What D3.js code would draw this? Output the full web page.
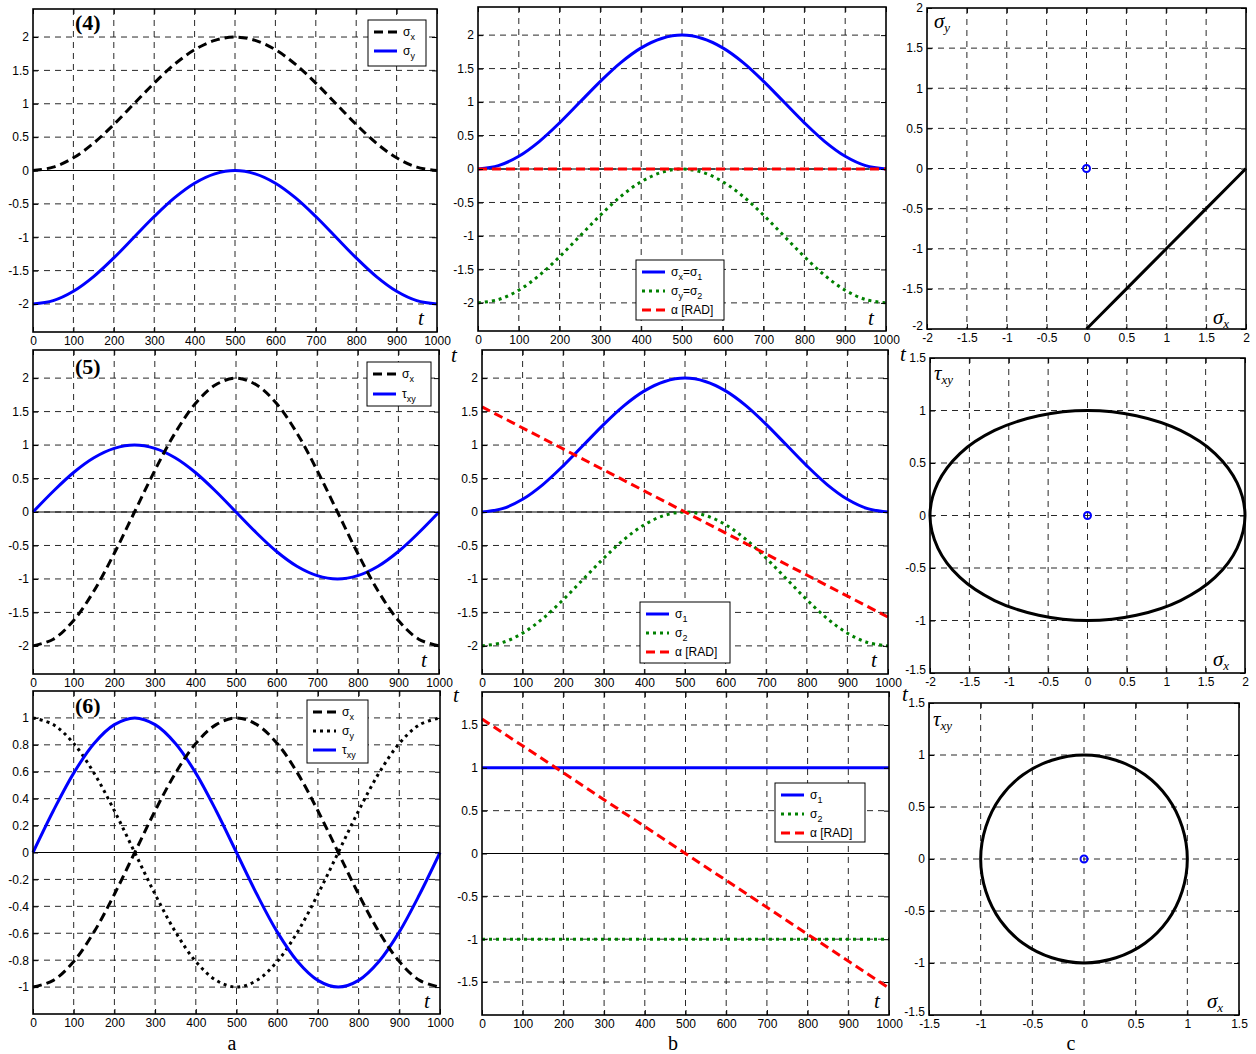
<!DOCTYPE html>
<html>
<head>
<meta charset="utf-8">
<script src="https://cdn.jsdelivr.net/npm/d3@7"></script>
<style>
body { margin: 0; background: #fff; }
svg { display: block; }
text { font-family: "Liberation Sans", Arial, sans-serif; }
.serif { font-family: "Liberation Serif", "Times New Roman", serif; }
</style>
</head>
<body>
<svg id="fig" width="1256" height="1054"></svg>
<script>
// time samples, read every 50 steps
var t = [0,50,100,150,200,250,300,350,400,450,500,550,600,650,700,750,800,850,900,950,1000];
var tEnds = [0, 1000];

// case (4)
var sigmaX4 = [0,0.05,0.19,0.41,0.69,1,1.31,1.59,1.81,1.95,2,1.95,1.81,1.59,1.31,1,0.69,0.41,0.19,0.05,0];
var sigmaY4 = [-2,-1.95,-1.81,-1.59,-1.31,-1,-0.69,-0.41,-0.19,-0.05,0,-0.05,-0.19,-0.41,-0.69,-1,-1.31,-1.59,-1.81,-1.95,-2];
var alpha4 = [0, 0];

// case (5)
var sigmaX5 = [-2,-1.9,-1.62,-1.18,-0.62,0,0.62,1.18,1.62,1.9,2,1.9,1.62,1.18,0.62,0,-0.62,-1.18,-1.62,-1.9,-2];
var tauXY5 = [0,0.31,0.59,0.81,0.95,1,0.95,0.81,0.59,0.31,0,-0.31,-0.59,-0.81,-0.95,-1,-0.95,-0.81,-0.59,-0.31,0];
var sigma1_5 = [0,0.05,0.19,0.41,0.69,1,1.31,1.59,1.81,1.95,2,1.95,1.81,1.59,1.31,1,0.69,0.41,0.19,0.05,0];
var sigma2_5 = [-2,-1.95,-1.81,-1.59,-1.31,-1,-0.69,-0.41,-0.19,-0.05,0,-0.05,-0.19,-0.41,-0.69,-1,-1.31,-1.59,-1.81,-1.95,-2];
var alpha5 = [1.57, -1.57];

// case (6)
var sigmaX6 = [-1,-0.95,-0.81,-0.59,-0.31,0,0.31,0.59,0.81,0.95,1,0.95,0.81,0.59,0.31,0,-0.31,-0.59,-0.81,-0.95,-1];
var sigmaY6 = [1,0.95,0.81,0.59,0.31,0,-0.31,-0.59,-0.81,-0.95,-1,-0.95,-0.81,-0.59,-0.31,0,0.31,0.59,0.81,0.95,1];
var tauXY6 = [0,0.31,0.59,0.81,0.95,1,0.95,0.81,0.59,0.31,0,-0.31,-0.59,-0.81,-0.95,-1,-0.95,-0.81,-0.59,-0.31,0];
var sigma1_6 = [1, 1];
var sigma2_6 = [-1, -1];
var alpha6 = [1.57, -1.57];

// origin marker in the stress plane
var originX = [0], originY = [0];

// tick values
var tTicks = [0,100,200,300,400,500,600,700,800,900,1000];
var ticks2 = [-2,-1.5,-1,-0.5,0,0.5,1,1.5,2];
var ticks15 = [-1.5,-1,-0.5,0,0.5,1,1.5];
var ticks1 = [-1,-0.8,-0.6,-0.4,-0.2,0,0.2,0.4,0.6,0.8,1];

var BLUE = "#0000ff", GREEN = "#008000", RED = "#ff0000", BLACK = "#000";
var DASH = "9,5", DOT = "3,4";

var svg = d3.select("#fig");
svg.append("rect").attr("width", 1256).attr("height", 1054).attr("fill", "#fff");

function fmt(v) {
  var s = String(+v.toFixed(2));
  return s === "-0" ? "0" : s;
}

function panel(p) {
  var g = svg.append("g");
  var x = d3.scaleLinear().domain(p.xd).range([p.l, p.r]);
  var y = d3.scaleLinear().domain(p.yd).range([p.b, p.t]);

  g.append("rect").attr("x", p.l).attr("y", p.t)
    .attr("width", p.r - p.l).attr("height", p.b - p.t).attr("fill", "#fff");

  // dashed grid
  g.selectAll(".gx").data(p.xt.filter(function(v){ return v > p.xd[0] && v < p.xd[1]; }))
    .enter().append("line")
    .attr("x1", function(d){ return x(d); }).attr("x2", function(d){ return x(d); })
    .attr("y1", p.t).attr("y2", p.b)
    .attr("stroke", "#111").attr("stroke-width", 0.9).attr("stroke-dasharray", "6,5");
  g.selectAll(".gy").data(p.yt.filter(function(v){ return v > p.yd[0] && v < p.yd[1]; }))
    .enter().append("line")
    .attr("y1", function(d){ return y(d); }).attr("y2", function(d){ return y(d); })
    .attr("x1", p.l).attr("x2", p.r)
    .attr("stroke", "#111").attr("stroke-width", 0.9).attr("stroke-dasharray", "6,5");

  if (p.zero) {
    g.append("line").attr("x1", p.l).attr("x2", p.r)
      .attr("y1", y(0)).attr("y2", y(0)).attr("stroke", "#000").attr("stroke-width", 1);
  }

  p.series.forEach(function(s) {
    var line = d3.line()
      .x(function(i){ return x(s.xs[i]); })
      .y(function(i){ return y(s.ys[i]); })
      .curve(s.curve || d3.curveCatmullRom);
    var idx = d3.range(s.closed ? s.xs.length - 1 : s.xs.length);
    g.append("path").attr("d", line(idx))
      .attr("fill", "none").attr("stroke", s.color)
      .attr("stroke-width", s.w || 3)
      .attr("stroke-dasharray", s.dash || null)
      .attr("stroke-linecap", "butt");
  });

  if (p.marker) {
    g.selectAll(".mk").data(d3.range(originX.length)).enter().append("circle")
      .attr("cx", function(i){ return x(originX[i]); })
      .attr("cy", function(i){ return y(originY[i]); })
      .attr("r", 3.5).attr("fill", "none").attr("stroke", BLUE).attr("stroke-width", 2);
  }

  // axes, ticks inward
  var ax = [
    [d3.axisBottom(x).tickValues(p.xt).tickFormat(fmt), "translate(0," + p.b + ")"],
    [d3.axisTop(x).tickValues(p.xt).tickFormat(""), "translate(0," + p.t + ")"],
    [d3.axisLeft(y).tickValues(p.yt).tickFormat(fmt), "translate(" + p.l + ",0)"],
    [d3.axisRight(y).tickValues(p.yt).tickFormat(""), "translate(" + p.r + ",0)"]
  ];
  ax.forEach(function(a, k) {
    var ag = g.append("g").attr("transform", a[1])
      .call(a[0].tickSizeInner(-5).tickSizeOuter(0).tickPadding(4));
    ag.select(".domain").remove();
    ag.attr("font-size", 12).attr("font-family", "'Liberation Sans', Arial, sans-serif");
    ag.selectAll(".tick line").attr("stroke", "#000").attr("stroke-width", 1);
    // corner label of the stress plane sits a little higher, as in MATLAB
    if (k === 2 && p.marker) {
      ag.selectAll(".tick text").filter(function(d){ return d === p.yd[0]; }).attr("dy", "0em");
    }
  });

  g.append("rect").attr("x", p.l).attr("y", p.t)
    .attr("width", p.r - p.l).attr("height", p.b - p.t)
    .attr("fill", "none").attr("stroke", "#000").attr("stroke-width", 1.6);

  if (p.legend) legend(g, p.legend);
}

function legend(g, L) {
  g.append("rect").attr("x", L.l).attr("y", L.t).attr("width", L.w).attr("height", L.h)
    .attr("fill", "#fff").attr("stroke", "#000").attr("stroke-width", 1);
  L.items.forEach(function(it, i) {
    var yy = L.t + 12 + i * L.step;
    g.append("line").attr("x1", L.l + 6).attr("x2", L.l + 29)
      .attr("y1", yy).attr("y2", yy).attr("stroke", it.color).attr("stroke-width", 3)
      .attr("stroke-dasharray", it.dash || null);
    var tx = g.append("text").attr("x", L.l + 35).attr("y", yy + 4).attr("font-size", 12);
    var sub = false;
    it.label.forEach(function(part) {
      var isSub = part[1] === 1;
      var dy = isSub && !sub ? 4 : (!isSub && sub ? -4 : 0);
      tx.append("tspan").attr("dy", dy).attr("font-size", isSub ? 9 : 12).text(part[0]);
      sub = isSub;
    });
  });
}

function italicLabel(x, y, main, sub) {
  var tx = svg.append("text").attr("class", "serif").attr("x", x).attr("y", y)
    .attr("font-size", 21).attr("font-style", "italic");
  tx.append("tspan").text(main);
  if (sub) tx.append("tspan").attr("dy", 4).attr("font-size", 13).text(sub);
}

var sx = [["\u03c3"], ["x", 1]], sy = [["\u03c3"], ["y", 1]], txy = [["\u03c4"], ["xy", 1]];
var aRad = [["\u03b1 [RAD]"]];

// row (4)
panel({ l: 33, r: 437, t: 9, b: 332, xd: [0, 1000], yd: [-2.42, 2.42], xt: tTicks, yt: ticks2, zero: true,
  series: [
    { xs: t, ys: sigmaX4, color: BLACK, dash: DASH },
    { xs: t, ys: sigmaY4, color: BLUE }
  ],
  legend: { l: 368, t: 20, w: 58, h: 46, step: 19, items: [
    { label: sx, color: BLACK, dash: DASH }, { label: sy, color: BLUE }] }
});
panel({ l: 478, r: 886, t: 7, b: 331, xd: [0, 1000], yd: [-2.42, 2.42], xt: tTicks, yt: ticks2, zero: true,
  series: [
    { xs: t, ys: sigmaX4, color: BLUE },
    { xs: t, ys: sigmaY4, color: GREEN, dash: DOT },
    { xs: tEnds, ys: alpha4, color: RED, dash: DASH, curve: d3.curveLinear }
  ],
  legend: { l: 636, t: 260, w: 88, h: 60, step: 19, items: [
    { label: [["\u03c3"], ["x", 1], ["=\u03c3"], ["1", 1]], color: BLUE },
    { label: [["\u03c3"], ["y", 1], ["=\u03c3"], ["2", 1]], color: GREEN, dash: DOT },
    { label: aRad, color: RED, dash: DASH }] }
});
panel({ l: 927, r: 1246, t: 8, b: 329, xd: [-2, 2], yd: [-2, 2], xt: ticks2, yt: ticks2, marker: true,
  series: [ { xs: sigmaX4, ys: sigmaY4, color: BLACK, curve: d3.curveLinear } ]
});

// row (5)
panel({ l: 33, r: 439, t: 350, b: 674, xd: [0, 1000], yd: [-2.42, 2.42], xt: tTicks, yt: ticks2, zero: true,
  series: [
    { xs: t, ys: tauXY5, color: BLUE },
    { xs: t, ys: sigmaX5, color: BLACK, dash: DASH }
  ],
  legend: { l: 367, t: 362, w: 64, h: 44, step: 20, items: [
    { label: sx, color: BLACK, dash: DASH }, { label: txy, color: BLUE }] }
});
panel({ l: 482, r: 888, t: 350, b: 674, xd: [0, 1000], yd: [-2.42, 2.42], xt: tTicks, yt: ticks2, zero: true,
  series: [
    { xs: t, ys: sigma1_5, color: BLUE },
    { xs: t, ys: sigma2_5, color: GREEN, dash: DOT },
    { xs: tEnds, ys: alpha5, color: RED, dash: DASH, curve: d3.curveLinear }
  ],
  legend: { l: 640, t: 602, w: 90, h: 61, step: 19, items: [
    { label: [["\u03c3"], ["1", 1]], color: BLUE },
    { label: [["\u03c3"], ["2", 1]], color: GREEN, dash: DOT },
    { label: aRad, color: RED, dash: DASH }] }
});
panel({ l: 930, r: 1245, t: 358, b: 673, xd: [-2, 2], yd: [-1.5, 1.5], xt: ticks2, yt: ticks15, marker: true,
  series: [ { xs: sigmaX5, ys: tauXY5, color: BLACK, closed: true, curve: d3.curveCatmullRomClosed } ]
});

// row (6)
panel({ l: 33, r: 440, t: 691, b: 1014, xd: [0, 1000], yd: [-1.2, 1.2], xt: tTicks, yt: ticks1, zero: true,
  series: [
    { xs: t, ys: sigmaY6, color: BLACK, dash: DOT },
    { xs: t, ys: tauXY6, color: BLUE },
    { xs: t, ys: sigmaX6, color: BLACK, dash: DASH }
  ],
  legend: { l: 307, t: 700, w: 61, h: 63, step: 19, items: [
    { label: sx, color: BLACK, dash: DASH }, { label: sy, color: BLACK, dash: DOT },
    { label: txy, color: BLUE }] }
});
panel({ l: 482, r: 889, t: 692, b: 1015, xd: [0, 1000], yd: [-1.885, 1.885], xt: tTicks, yt: ticks15, zero: true,
  series: [
    { xs: tEnds, ys: sigma1_6, color: BLUE, curve: d3.curveLinear },
    { xs: tEnds, ys: sigma2_6, color: GREEN, dash: DOT, curve: d3.curveLinear },
    { xs: tEnds, ys: alpha6, color: RED, dash: DASH, curve: d3.curveLinear }
  ],
  legend: { l: 775, t: 783, w: 90, h: 59, step: 19, items: [
    { label: [["\u03c3"], ["1", 1]], color: BLUE },
    { label: [["\u03c3"], ["2", 1]], color: GREEN, dash: DOT },
    { label: aRad, color: RED, dash: DASH }] }
});
panel({ l: 929, r: 1239, t: 703, b: 1015, xd: [-1.5, 1.5], yd: [-1.5, 1.5], xt: ticks15, yt: ticks15, marker: true,
  series: [ { xs: sigmaX6, ys: tauXY6, color: BLACK, closed: true, curve: d3.curveCatmullRomClosed } ]
});

// case numbers
[["(4)", 75, 30], ["(5)", 75, 374], ["(6)", 75, 713]].forEach(function(c) {
  svg.append("text").attr("class", "serif").attr("x", c[1]).attr("y", c[2])
    .attr("font-size", 22).attr("font-weight", "bold").text(c[0]);
});

// time labels
[[418, 325], [868, 325], [421, 667], [871, 667], [424, 1008], [874, 1008],
 [451, 362], [900, 361], [453, 702], [902, 701]].forEach(function(p) {
  italicLabel(p[0], p[1], "t");
});

// stress-plane labels
italicLabel(934, 28, "\u03c3", "y");
italicLabel(1213, 324, "\u03c3", "x");
italicLabel(934, 380, "\u03c4", "xy");
italicLabel(1213, 666, "\u03c3", "x");
italicLabel(933, 726, "\u03c4", "xy");
italicLabel(1207, 1008, "\u03c3", "x");

// column letters
[["a", 232], ["b", 673], ["c", 1071]].forEach(function(c) {
  svg.append("text").attr("class", "serif").attr("x", c[1]).attr("y", 1050)
    .attr("text-anchor", "middle").attr("font-size", 20).text(c[0]);
});
</script>
</body>
</html>
